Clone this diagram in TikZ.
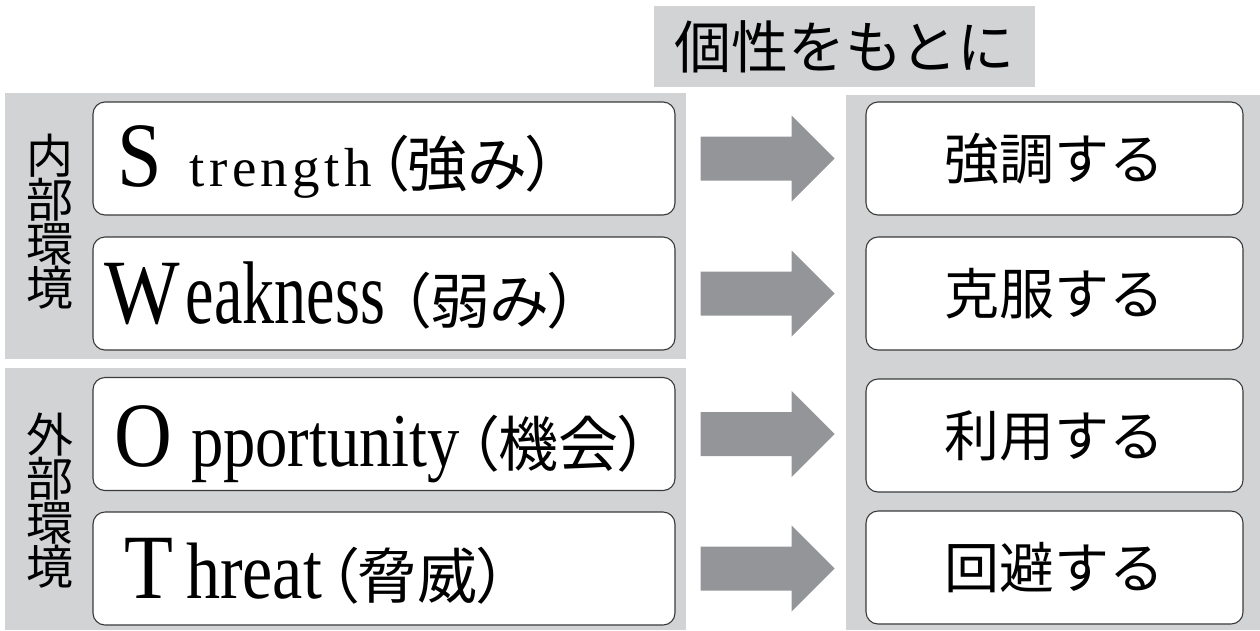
\documentclass[tikz,border=0pt]{standalone}
\usepackage{fontspec}
\newfontfamily\jf{Noto Sans CJK JP}
\newfontfamily\jfp[RawFeature=+palt]{Noto Sans CJK JP}
\newfontfamily\capf[FakeStretch=0.87]{Liberation Serif}
\newfontfamily\lcA[LetterSpace=8]{Liberation Serif}
\newfontfamily\lcB[FakeStretch=0.72]{Liberation Serif}
\newfontfamily\lcC[FakeStretch=0.85]{Liberation Serif}
\usetikzlibrary{calc}
\definecolor{panelgray}{HTML}{D1D3D4}
\definecolor{arrowgray}{HTML}{939598}
\definecolor{boxline}{HTML}{3A3A3A}
\newcommand\swotcap[1]{{\capf\fontsize{92pt}{92pt}\selectfont #1}}
\newcommand\swotjp[1]{{\jfp\fontsize{60pt}{60pt}\selectfont #1}}
\tikzset{
  panel/.style={fill=panelgray, draw=none, inner sep=0pt},
  lbox/.style={draw=boxline, line width=1.1pt, fill=white, rounded corners=12pt,
    minimum width=582pt, minimum height=113pt, inner sep=0pt},
  rbox/.style={draw=boxline, line width=1.1pt, fill=white, rounded corners=12pt,
    minimum width=377pt, minimum height=113pt, inner sep=0pt,
    font=\jf\fontsize{55pt}{55pt}\selectfont},
  swot/.style={anchor=base west, inner sep=0pt},
  vlabel/.style={inner sep=0pt, align=center, font=\jf\fontsize{47pt}{44pt}\selectfont},
  fat/.style={fill=arrowgray, draw=none}
}
\newcommand\blockarrow[1]{%
  \fill[fat] ($(#1.east)+(25,-22)$) -- ++(91,0) -- ++(0,-21) -- ++(43,43)
    -- ++(-43,43) -- ++(0,-21) -- ++(-91,0) -- cycle;}
\begin{document}
\begin{tikzpicture}[x=1pt,y=-1pt]
\useasboundingbox (0,0) rectangle (1260,630);
% panels
\node[panel, minimum width=681pt, minimum height=266pt] (inner) at (345.5,226) {};
\node[panel, minimum width=681pt, minimum height=262pt] (outer) at (345.5,499) {};
\node[panel, minimum width=414pt, minimum height=535pt] (act) at (1053,362.5) {};
\node[panel, minimum width=381pt, minimum height=81pt,
  font=\jf\fontsize{57pt}{57pt}\selectfont] (title) at (844.5,46.5) {個性をもとに};
% vertical labels
\node[vlabel] (inlab) at (50,222) {内\\部\\環\\境};
\node[vlabel] (outlab) at (50,501) {外\\部\\環\\境};
% left boxes
\node[lbox] (s) at (384,158.5) {};
\node[lbox] (w) at (384,293.5) {};
\node[lbox] (o) at (384,434) {};
\node[lbox] (t) at (384,568.5) {};
\node[swot] (stext) at (117,186) {\swotcap{S}\hspace{28pt}{\lcA\fontsize{55pt}{55pt}\selectfont trength}\hspace{6pt}\swotjp{（強み）}};
\node[swot] (wtext) at (104,323) {\swotcap{W}\hspace{6pt}{\lcB\fontsize{89pt}{89pt}\selectfont eakness}\hspace{15pt}\swotjp{（弱み）}};
\node[swot] (otext) at (114,466) {\swotcap{O}\hspace{19pt}{\lcC\fontsize{76pt}{76pt}\selectfont pportunity}\hspace{8pt}\swotjp{（機会）}};
\node[swot] (ttext) at (124,598) {\swotcap{T}\hspace{13pt}{\lcC\fontsize{80pt}{80pt}\selectfont hreat}\hspace{6pt}\swotjp{（脅威）}};
% right boxes
\node[rbox] (rs) at (1054.5,158.5) {強調する};
\node[rbox] (rw) at (1054.5,293.5) {克服する};
\node[rbox] (ro) at (1054.5,435.5) {利用する};
\node[rbox] (rt) at (1054.5,567.5) {回避する};
% arrows
\blockarrow{s}
\blockarrow{w}
\blockarrow{o}
\blockarrow{t}
\end{tikzpicture}
\end{document}
